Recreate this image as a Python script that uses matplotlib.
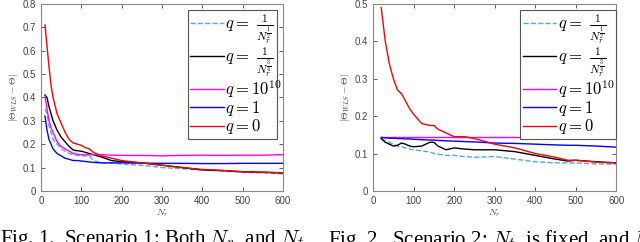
import numpy as np
import matplotlib.pyplot as plt

plt.rcParams['mathtext.fontset'] = 'cm'
plt.rcParams['font.family'] = ['Liberation Sans', 'DejaVu Sans']

# ---- Scenario 1 (left) ----
x1 = [10, 15, 20, 25, 30, 40, 50, 60, 70, 80, 90, 100, 110, 120, 130, 150,
      175, 200, 250, 300, 350, 400, 450, 500, 550, 600]
s1_half = [0.35, 0.33, 0.28, 0.25, 0.22, 0.20, 0.18, 0.17, 0.16, 0.155, 0.152, 0.15,
           0.15, 0.15, 0.13, 0.12, 0.12, 0.115, 0.11, 0.10, 0.095, 0.09, 0.085,
           0.08, 0.077, 0.073]
s1_three4 = [0.41, 0.40, 0.36, 0.33, 0.30, 0.26, 0.23, 0.21, 0.19, 0.175, 0.172,
             0.17, 0.165, 0.16, 0.155, 0.145, 0.13, 0.125, 0.12, 0.11, 0.10, 0.09,
             0.087, 0.082, 0.08, 0.077]
s1_big = [0.41, 0.35, 0.30, 0.27, 0.25, 0.21, 0.19, 0.18, 0.17, 0.16, 0.157, 0.155,
          0.155, 0.155, 0.155, 0.155, 0.153, 0.152, 0.152, 0.15, 0.152, 0.153,
          0.152, 0.153, 0.153, 0.155]
s1_one = [0.32, 0.26, 0.22, 0.20, 0.18, 0.16, 0.15, 0.14, 0.135, 0.13, 0.13, 0.128,
          0.126, 0.124, 0.122, 0.12, 0.12, 0.12, 0.119, 0.118, 0.118, 0.117,
          0.117, 0.118, 0.118, 0.118]
s1_zero = [0.71, 0.62, 0.53, 0.45, 0.40, 0.33, 0.29, 0.25, 0.22, 0.205, 0.20, 0.195,
           0.185, 0.18, 0.165, 0.15, 0.14, 0.13, 0.12, 0.11, 0.10, 0.092, 0.088,
           0.082, 0.08, 0.078]

# ---- Scenario 2 (right) ----
x2 = [20, 30, 40, 50, 60, 70, 80, 90, 100, 120, 140, 150, 160, 180, 200, 225,
      250, 300, 350, 400, 450, 480, 500, 550, 600]
s2_half = [0.14, 0.135, 0.13, 0.125, 0.12, 0.118, 0.115, 0.112, 0.11, 0.107, 0.104,
           0.10, 0.098, 0.095, 0.095, 0.092, 0.09, 0.092, 0.085, 0.078, 0.075,
           0.075, 0.075, 0.072, 0.072]
s2_three4 = [0.14, 0.13, 0.125, 0.12, 0.122, 0.128, 0.125, 0.12, 0.118, 0.12, 0.13,
             0.13, 0.12, 0.11, 0.115, 0.112, 0.11, 0.11, 0.105, 0.095, 0.085, 0.08,
             0.082, 0.078, 0.075]
s2_big = [0.145] * len(x2)
s2_one = [0.143, 0.142, 0.141, 0.141, 0.140, 0.140, 0.139, 0.139, 0.138, 0.137,
          0.136, 0.136, 0.135, 0.134, 0.133, 0.132, 0.131, 0.128, 0.127, 0.125,
          0.123, 0.122, 0.122, 0.120, 0.117]
s2_zero = [0.49, 0.40, 0.34, 0.30, 0.27, 0.26, 0.24, 0.22, 0.205, 0.18, 0.175, 0.175,
           0.165, 0.155, 0.145, 0.145, 0.14, 0.125, 0.115, 0.10, 0.09, 0.082,
           0.082, 0.077, 0.075]

labels = [r'$q=\ \frac{1}{N_r^{\frac{1}{2}}}$',
          r'$q=\ \frac{1}{N_r^{\frac{3}{4}}}$',
          r'$q=10^{10}$', r'$q=1$', r'$q=0$']
colors = ['#4dace6', 'black', '#ff00ff', '#0000ff', '#ff0000']
styles = ['--', '-', '-', '-', '-']

fig = plt.figure(figsize=(6.4, 2.42), dpi=100)
ax1 = fig.add_axes([0.064, 0.211, 0.378, 0.773])
ax2 = fig.add_axes([0.583, 0.211, 0.380, 0.773])

panels = [
    (ax1, x1, [s1_half, s1_three4, s1_big, s1_one, s1_zero], 0.8, [0.607, 0.294, 0.368, 0.674]),
    (ax2, x2, [s2_half, s2_three4, s2_big, s2_one, s2_zero], 0.5, [0.605, 0.294, 0.395, 0.674]),
]

for ax, x, series, ymax, lbox in panels:
    for y, c, ls, lab in zip(series, colors, styles, labels):
        ax.plot(x, y, color=c, ls=ls, lw=1.0, label=lab)
    ax.set_xlim(0, 600)
    ax.set_ylim(0, ymax)
    ax.set_xticks(range(0, 601, 100))
    ax.set_yticks(np.arange(0, ymax + 0.01, 0.1))
    ax.set_yticklabels(['0'] + ['%.1f' % v for v in np.arange(0.1, ymax + 0.01, 0.1)])
    ax.tick_params(direction='in', top=True, right=True, labelsize=7,
                   colors='#444444', length=3, width=0.6)
    for sp in ax.spines.values():
        sp.set_color('#888888')
        sp.set_linewidth(0.8)
    ax.set_xlabel(r'$N_r$', fontsize=7, labelpad=1, color='#444444')
    ax.set_ylabel(r'$|\Theta_{WLS}-\Theta|$', fontsize=7, labelpad=2, color='#444444')
    leg = ax.legend(loc='upper left', bbox_to_anchor=lbox, mode='expand',
                    fontsize=12, handlelength=2.0, handletextpad=0.1,
                    borderpad=0.15, labelspacing=-0.05, fancybox=False,
                    framealpha=1, edgecolor='#555555', borderaxespad=0)
    leg.get_frame().set_linewidth(0.8)

# figure captions, partly cut by the bottom edge as in the source page
fig.text(0.0, 0.058, r'Fig. 1.  Scenario 1: Both $N_r$  and $N_t$', va='top', ha='left',
         fontsize=15, family='Liberation Serif')
fig.text(0.513, 0.058, r'Fig. 2.  Scenario 2: $N_t$  is fixed  and $N_r$', va='top',
         ha='left', fontsize=15, family='Liberation Serif')

fig.savefig('out.png', dpi=100)
